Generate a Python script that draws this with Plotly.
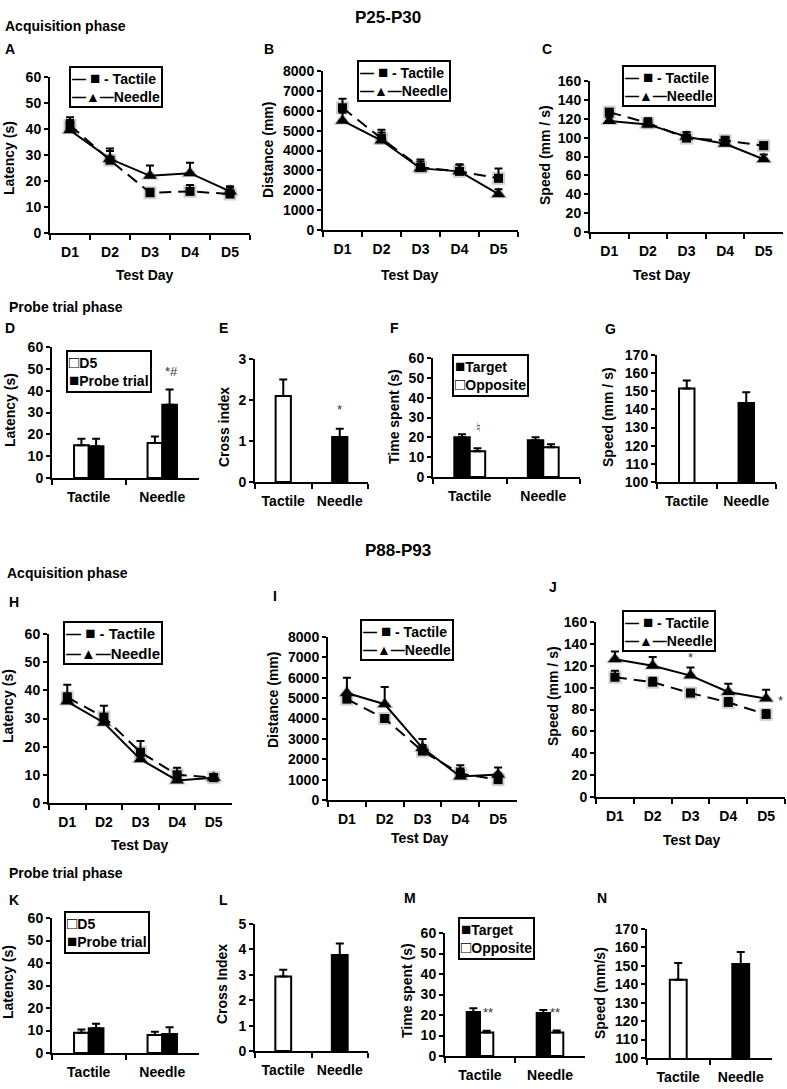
import plotly.graph_objects as go

W, H = 787, 1089
FONT = "Liberation Sans, Arial, Helvetica, sans-serif"

# ---------------- data ----------------
days = ["D1", "D2", "D3", "D4", "D5"]
groups = ["Tactile", "Needle"]

# P25-P30 acquisition
a_tactile = [41.5, 28, 15.5, 16, 15]
a_tactile_err = [3, 3.5, 1.5, 2.5, 2.5]
a_needle = [39.5, 28.5, 22, 23, 16]
a_needle_err = [4, 4, 4, 4, 2]

b_tactile = [6150, 4600, 3150, 2950, 2600]
b_tactile_err = [450, 450, 400, 350, 500]
b_needle = [5500, 4500, 3100, 2950, 1800]
b_needle_err = [400, 400, 350, 350, 250]

c_tactile = [127, 115.5, 99.5, 97, 91.5]
c_tactile_err = [3, 5, 3, 4, 3]
c_needle = [117.5, 114, 101, 93.5, 77]
c_needle_err = [4, 6, 5, 3, 5]

# P25-P30 probe
d_d5 = [15, 16]
d_d5_err = [3, 3]
d_probe = [14.5, 33.5]
d_probe_err = [3.5, 7]

e_cross = [2.1, 1.1]
e_cross_err = [0.4, 0.2]

f_target = [20, 18.5]
f_target_err = [1.5, 1.5]
f_opposite = [13, 15]
f_opposite_err = [1.5, 1.5]

g_speed = [151.5, 143.5]
g_speed_err = [4.5, 6]

# P88-P93 acquisition
h_tactile = [37.5, 30.5, 18, 10, 9]
h_tactile_err = [4.5, 4, 4, 2.5, 1]
h_needle = [36, 28.5, 15.5, 8, 9]
h_needle_err = [3, 3, 3, 3, 1]

i_tactile = [4950, 4000, 2400, 1300, 1000]
i_tactile_err = [200, 150, 300, 400, 300]
i_needle = [5250, 4700, 2550, 1150, 1250]
i_needle_err = [750, 850, 450, 400, 350]

j_tactile = [109.5, 105, 95, 86.5, 75.5]
j_tactile_err = [6, 4, 3, 4, 4]
j_needle = [126, 120, 111, 96, 90]
j_needle_err = [7, 8, 7.5, 7.5, 8]

# P88-P93 probe
k_d5 = [9, 8]
k_d5_err = [1.5, 1.5]
k_probe = [11, 8.5]
k_probe_err = [2, 3]

l_cross = [2.93, 3.78]
l_cross_err = [0.27, 0.45]

m_target = [21.5, 21]
m_target_err = [1.8, 1.5]
m_opposite = [11.5, 11.5]
m_opposite_err = [0.8, 1]

n_speed = [142.5, 151]
n_speed_err = [9, 6.5]

# ---------------- helpers ----------------
def px(x):
    return x / W

def py(y):
    return 1 - y / H

fig = go.Figure()
layout = dict(
    width=W, height=H, margin=dict(l=0, r=0, t=0, b=0, pad=0, autoexpand=False),
    paper_bgcolor="white", plot_bgcolor="white",
    font=dict(family=FONT, size=14, color="black", weight="bold"),
    barmode="overlay", showlegend=False,
)
annotations = []

BOLD = dict(family=FONT, size=14, color="black", weight="bold")


def refs(n):
    return ("x", "y") if n == 1 else (f"x{n}", f"y{n}")


def add_axes(n, box, yrange, dtick, cats):
    x0, x1, ytop, ybot = box
    key = "" if n == 1 else str(n)
    layout[f"xaxis{key}"] = dict(
        domain=[px(x0), px(x1)], anchor=f"y{key}", type="category", automargin=False,
        categoryorder="array", categoryarray=cats, range=[-0.5, len(cats) - 0.5],
        tickson="boundaries", ticks="outside", ticklen=5, tickwidth=2, tickcolor="black",
        ticklabelstandoff=5,
        showline=True, linecolor="black", linewidth=2, showgrid=False, zeroline=False,
        tickfont=BOLD, fixedrange=True,
    )
    layout[f"yaxis{key}"] = dict(
        domain=[py(ybot), py(ytop)], anchor=f"x{key}", range=yrange, tick0=yrange[0], dtick=dtick,
        automargin=False,
        ticks="outside", ticklen=4, tickwidth=2, tickcolor="black",
        showline=True, linecolor="black", linewidth=2, showgrid=False, zeroline=False,
        tickfont=BOLD, fixedrange=True,
    )


def err(arr):
    return dict(type="data", array=arr, arrayminus=[0] * len(arr), symmetric=False,
                color="black", thickness=2, width=4)


def line_panel(n, tact, tact_err, need, need_err):
    xr, yr = refs(n)
    # soft shadow under the markers
    fig.add_trace(go.Scatter(x=days, y=tact, xaxis=xr, yaxis=yr, mode="markers", hoverinfo="skip",
                             marker=dict(symbol="square", size=13, color="rgba(0,0,0,0.18)"),
                             cliponaxis=False))
    fig.add_trace(go.Scatter(x=days, y=need, xaxis=xr, yaxis=yr, mode="markers", hoverinfo="skip",
                             marker=dict(symbol="triangle-up", size=16, color="rgba(0,0,0,0.18)"),
                             cliponaxis=False))
    fig.add_trace(go.Scatter(
        x=days, y=tact, xaxis=xr, yaxis=yr, name="Tactile", mode="lines+markers",
        line=dict(color="black", width=2, dash="12px,7px"),
        marker=dict(symbol="square", size=9, color="black"),
        error_y=err(tact_err), cliponaxis=False))
    fig.add_trace(go.Scatter(
        x=days, y=need, xaxis=xr, yaxis=yr, name="Needle", mode="lines+markers",
        line=dict(color="black", width=2),
        marker=dict(symbol="triangle-up", size=12, color="black"),
        error_y=err(need_err), cliponaxis=False))


def grouped_bars(n, s1, e1, c1, s2, e2, c2, w):
    xr, yr = refs(n)
    fig.add_trace(go.Bar(x=groups, y=s1, xaxis=xr, yaxis=yr, offset=-w, width=w,
                         marker=dict(color=c1, line=dict(color="black", width=2)),
                         error_y=err(e1)))
    fig.add_trace(go.Bar(x=groups, y=s2, xaxis=xr, yaxis=yr, offset=0, width=w,
                         marker=dict(color=c2, line=dict(color="black", width=2)),
                         error_y=err(e2)))


def single_bars(n, vals, errs, w):
    xr, yr = refs(n)
    fig.add_trace(go.Bar(x=groups, y=vals, xaxis=xr, yaxis=yr, width=w,
                         marker=dict(color=["white", "black"], line=dict(color="black", width=2)),
                         error_y=err(errs)))


def text(x, y, s, size=14, anchor="center", weight="bold", color="black"):
    annotations.append(dict(x=px(x), y=py(y), xref="paper", yref="paper", text=s, showarrow=False,
                            xanchor=anchor, yanchor="middle",
                            font=dict(family=FONT, size=size, color=color, weight=weight)))


def ytitle(x, y, s):
    annotations.append(dict(x=px(x), y=py(y), xref="paper", yref="paper", text=s, showarrow=False,
                            xanchor="center", yanchor="middle", textangle=-90, font=BOLD))


def box_legend(x, y, s, size=14):
    annotations.append(dict(x=px(x), y=py(y), xref="paper", yref="paper", text=s, showarrow=False,
                            xanchor="left", yanchor="top", align="left", bgcolor="white",
                            bordercolor="black", borderwidth=2, borderpad=1,
                            font=dict(family=FONT, size=size, color="black", weight="bold")))


SQ = "<span style='font-size:17px'>■</span>"
OSQ = "<span style='font-size:17px'>□</span>"
LINE_LEGEND = "— " + SQ + " - Tactile<br>—▲—Needle"


def mark(n, x, y, s, size=13, family=None):
    xr, yr = refs(n)
    annotations.append(dict(x=x, y=y, xref=xr, yref=yr, text=s, showarrow=False,
                            font=dict(family=family or FONT, size=size, color="#333",
                                      weight="normal")))

# ---------------- panels ----------------
boxes = {
    1: (50, 250, 77, 233),    # A
    2: (323, 518, 71, 230),   # B
    3: (590, 783, 81, 232),   # C
    4: (52, 199, 347, 478),   # D
    5: (255, 368, 359, 482),  # E
    6: (433, 580, 358, 477),  # F
    7: (657, 776, 355, 482),  # G
    8: (49, 232, 634, 803),   # H
    9: (328, 517, 637, 800),  # I
    10: (596, 785, 622, 797), # J
    11: (52, 199, 918, 1053), # K
    12: (255, 368, 924, 1051),# L
    13: (445, 585, 933, 1056),# M
    14: (647, 772, 929, 1058),# N
}

add_axes(1, boxes[1], [0, 60], 10, days)
add_axes(2, boxes[2], [0, 8000], 1000, days)
add_axes(3, boxes[3], [0, 160], 20, days)
add_axes(4, boxes[4], [0, 60], 10, groups)
add_axes(5, boxes[5], [0, 3], 1, groups)
add_axes(6, boxes[6], [0, 60], 10, groups)
add_axes(7, boxes[7], [100, 170], 10, groups)
add_axes(8, boxes[8], [0, 60], 10, days)
add_axes(9, boxes[9], [0, 8000], 1000, days)
add_axes(10, boxes[10], [0, 160], 20, days)
add_axes(11, boxes[11], [0, 60], 10, groups)
add_axes(12, boxes[12], [0, 5], 1, groups)
add_axes(13, boxes[13], [0, 60], 10, groups)
add_axes(14, boxes[14], [100, 170], 10, groups)

line_panel(1, a_tactile, a_tactile_err, a_needle, a_needle_err)
line_panel(2, b_tactile, b_tactile_err, b_needle, b_needle_err)
line_panel(3, c_tactile, c_tactile_err, c_needle, c_needle_err)
line_panel(8, h_tactile, h_tactile_err, h_needle, h_needle_err)
line_panel(9, i_tactile, i_tactile_err, i_needle, i_needle_err)
line_panel(10, j_tactile, j_tactile_err, j_needle, j_needle_err)

grouped_bars(4, d_d5, d_d5_err, "white", d_probe, d_probe_err, "black", 0.2)
single_bars(5, e_cross, e_cross_err, 0.27)
grouped_bars(6, f_target, f_target_err, "black", f_opposite, f_opposite_err, "white", 0.21)
single_bars(7, g_speed, g_speed_err, 0.26)
grouped_bars(11, k_d5, k_d5_err, "white", k_probe, k_probe_err, "black", 0.2)
single_bars(12, l_cross, l_cross_err, 0.28)
grouped_bars(13, m_target, m_target_err, "black", m_opposite, m_opposite_err, "white", 0.19)
single_bars(14, n_speed, n_speed_err, 0.27)

# legends (boxed)
box_legend(69, 66, LINE_LEGEND)
box_legend(357, 60, LINE_LEGEND)
box_legend(622, 65, LINE_LEGEND)
box_legend(63, 621, LINE_LEGEND, size=15)
box_legend(360, 619, LINE_LEGEND)
box_legend(622, 610, LINE_LEGEND)
box_legend(66, 350, OSQ + "D5<br>" + SQ + "Probe trial")
box_legend(452, 354, SQ + "Target<br>" + OSQ + "Opposite")
box_legend(64, 911, OSQ + "D5<br>" + SQ + "Probe trial")
box_legend(458, 917, SQ + "Target<br>" + OSQ + "Opposite")

# significance marks
mark(4, 1.12, 49, "*#")
mark(5, 1, 1.76, "*")
mark(6, 0.12, 25, "♮", size=13, family="DejaVu Sans")
mark(10, 2, 128, "*")
mark(10, 4.37, 88, "*")
mark(13, 0.11, 21, "**")
mark(13, 1.07, 21, "**")

# headings and labels
text(388, 17, "P25-P30", size=17)
text(3, 26, "Acquisition phase", anchor="left")
text(3, 49, "A", anchor="left")
text(262, 49, "B", anchor="left")
text(540, 49, "C", anchor="left")
text(145, 275, "Test Day")
text(410, 275, "Test Day")
text(662, 275, "Test Day")
text(7, 307, "Probe trial phase", anchor="left")
text(3, 328, "D", anchor="left")
text(217, 328, "E", anchor="left")
text(388, 328, "F", anchor="left")
text(603, 329, "G", anchor="left")

text(398, 550, "P88-P93", size=17)
text(5, 573, "Acquisition phase", anchor="left")
text(7, 602, "H", anchor="left")
text(271, 596, "I", anchor="left")
text(547, 587, "J", anchor="left")
text(140, 845, "Test Day")
text(420, 838, "Test Day")
text(692, 840, "Test Day")
text(7, 873, "Probe trial phase", anchor="left")
text(7, 900, "K", anchor="left")
text(217, 900, "L", anchor="left")
text(402, 898, "M", anchor="left")
text(595, 898, "N", anchor="left")

ytitle(9, 158, "Latency (s)")
ytitle(268, 150, "Distance (mm)")
ytitle(545, 155, "Speed (mm / s)")
ytitle(10, 410, "Latency (s)")
ytitle(224, 427, "Cross index")
ytitle(394, 417, "Time spent (s)")
ytitle(608, 417, "Speed (mm / s)")
ytitle(8, 706, "Latency (s)")
ytitle(273, 700, "Distance (mm)")
ytitle(553, 696, "Speed (mm / s)")
ytitle(8, 982, "Latency (s)")
ytitle(222, 984, "Cross Index")
ytitle(407, 991, "Time spent (s)")
ytitle(600, 993, "Speed (mm/s)")

layout["annotations"] = annotations
fig.update_layout(**layout)
fig.write_html("out.html", config={"displayModeBar": False, "staticPlot": True},
               post_script="document.body.style.margin='0px';document.body.style.padding='0px';")
